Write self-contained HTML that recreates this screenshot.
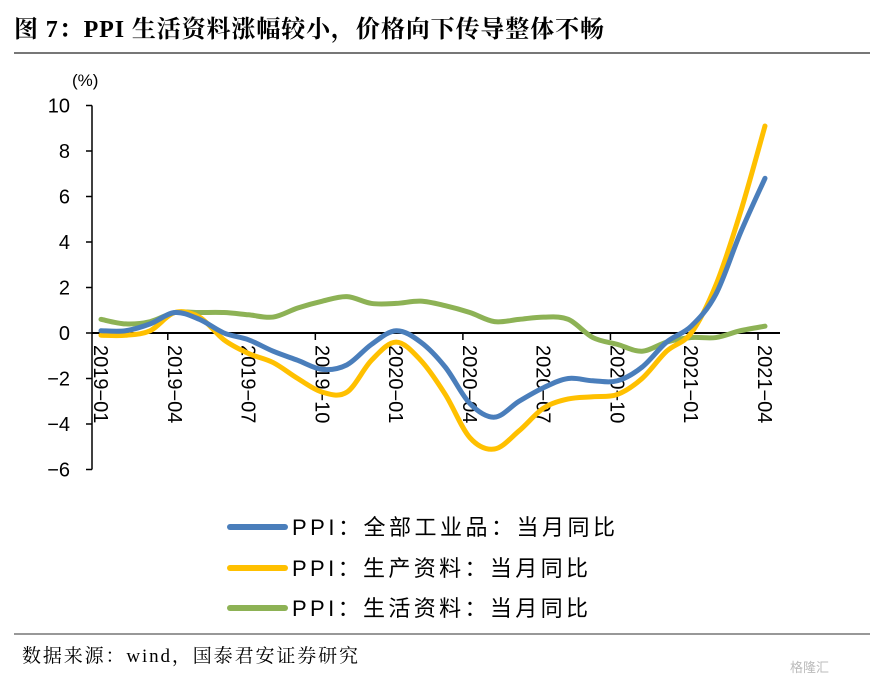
<!DOCTYPE html>
<html><head><meta charset="utf-8"><style>
body{margin:0;background:#fff;width:870px;height:688px;overflow:hidden;font-family:"Liberation Sans","Noto Sans CJK SC",sans-serif}
</style></head><body>
<svg width="870" height="688" xmlns="http://www.w3.org/2000/svg">
<text x="14" y="37" font-family="Liberation Serif,Noto Serif CJK SC,serif" font-weight="bold" font-size="24" fill="#000" textLength="590">图 7：PPI 生活资料涨幅较小，价格向下传导整体不畅</text>
<line x1="14" y1="53" x2="870" y2="53" stroke="#777" stroke-width="2"/>
<text x="72" y="86" font-size="17" fill="#000">(%)</text>
<g id="axes"></g>
<g id="series"></g>
<g font-size="22" fill="#000">
<line x1="230" y1="527" x2="285" y2="527" stroke="#4A7EBB" stroke-width="6" stroke-linecap="round"/>
<text x="292" y="535" textLength="323">PPI：全部工业品：当月同比</text>
<line x1="230" y1="568" x2="285" y2="568" stroke="#FFC000" stroke-width="6" stroke-linecap="round"/>
<text x="292" y="576" textLength="296">PPI：生产资料：当月同比</text>
<line x1="230" y1="608" x2="285" y2="608" stroke="#8DB255" stroke-width="6" stroke-linecap="round"/>
<text x="292" y="616" textLength="296">PPI：生活资料：当月同比</text>
</g>
<line x1="14" y1="634" x2="870" y2="634" stroke="#777" stroke-width="1.5"/>
<text x="22" y="662" font-size="19" font-family="Liberation Serif,Noto Serif CJK SC,serif" fill="#000" textLength="336">数据来源：wind，国泰君安证券研究</text>
<text x="790" y="672" font-size="13" fill="#bbb">格隆汇</text>
</svg>
<script>
const categories=["2019-01","2019-02","2019-03","2019-04","2019-05","2019-06","2019-07","2019-08","2019-09","2019-10","2019-11","2019-12","2020-01","2020-02","2020-03","2020-04","2020-05","2020-06","2020-07","2020-08","2020-09","2020-10","2020-11","2020-12","2021-01","2021-02","2021-03","2021-04"];
const allIndustry=[0.1,0.1,0.4,0.9,0.6,0.0,-0.3,-0.8,-1.2,-1.6,-1.4,-0.5,0.1,-0.4,-1.5,-3.1,-3.7,-3.0,-2.4,-2.0,-2.1,-2.1,-1.5,-0.4,0.3,1.7,4.4,6.8];
const production=[-0.1,-0.1,0.1,0.9,0.7,-0.3,-0.9,-1.3,-2.0,-2.6,-2.6,-1.2,-0.4,-1.2,-2.7,-4.6,-5.1,-4.3,-3.3,-2.9,-2.8,-2.7,-2.0,-0.8,0.0,2.1,5.3,9.1];
const living=[0.6,0.4,0.5,0.9,0.9,0.9,0.8,0.7,1.1,1.4,1.6,1.3,1.3,1.4,1.2,0.9,0.5,0.6,0.7,0.6,-0.2,-0.5,-0.8,-0.4,-0.2,-0.2,0.1,0.3];
const yTicks=[-6,-4,-2,0,2,4,6,8,10];
const xLabels=["2019-01","2019-04","2019-07","2019-10","2020-01","2020-04","2020-07","2020-10","2021-01","2021-04"];
const NS="http://www.w3.org/2000/svg";
const X0=101,X1=765,Y0=333,PU=22.75;
const x=i=>X0+i*(X1-X0)/(categories.length-1);
const y=v=>Y0-v*PU;
function mk(t,a,p){const e=document.createElementNS(NS,t);for(const k in a)e.setAttribute(k,a[k]);p.appendChild(e);return e;}
const ax=document.getElementById('axes');
const yl=mk('line',{x1:92,y1:y(10),x2:92,y2:y(-6),stroke:'#000','stroke-width':1.5},ax);


yTicks.forEach(v=>{
 const t=mk('line',{x1:86,y1:y(v),x2:92,y2:y(v),stroke:'#000','stroke-width':1.5},ax);
 
 
 const l=mk('text',{x:70,y:y(v)+7,'text-anchor':'end','font-size':20,fill:'#000'},ax);
 l.textContent=v<0?'−'+(-v):String(v);
 
 
});
const xl=mk('line',{x1:92,y1:Y0,x2:780,y2:Y0,stroke:'#000','stroke-width':2},ax);


for(let i=3;i<categories.length;i+=6){
 const t=mk('line',{x1:x(i)-7,y1:Y0,x2:x(i)-7,y2:Y0+7,stroke:'#000','stroke-width':1.5},ax);
 
 
}
xLabels.forEach(c=>{
 const i=categories.indexOf(c);
 const l=mk('text',{x:0,y:0,'font-size':20,fill:'#000',transform:`translate(${x(i)-7},${Y0+12}) rotate(90)`},ax);
 l.textContent=c.replace('-','−');
 
 
});
function path(vals){
 const p=vals.map((v,i)=>[x(i),y(v)]);
 let d=`M${p[0][0]},${p[0][1]}`;
 for(let i=0;i<p.length-1;i++){
  const a=p[Math.max(i-1,0)],b=p[i],c=p[i+1],e=p[Math.min(i+2,p.length-1)];
  d+=` C${b[0]+(c[0]-a[0])/6},${b[1]+(c[1]-a[1])/6} ${c[0]-(e[0]-b[0])/6},${c[1]-(e[1]-b[1])/6} ${c[0]},${c[1]}`;
 }
 return d;
}
const sg=document.getElementById('series');
[[living,'#8DB255','line-living'],[production,'#FFC000','line-production'],[allIndustry,'#4A7EBB','line-all-industry']].forEach(([v,c,n])=>{
 const e=mk('path',{d:path(v),fill:'none',stroke:c,'stroke-width':5,'stroke-linecap':'round','stroke-linejoin':'round'},sg);
 
 
});
</script>
</body></html>
